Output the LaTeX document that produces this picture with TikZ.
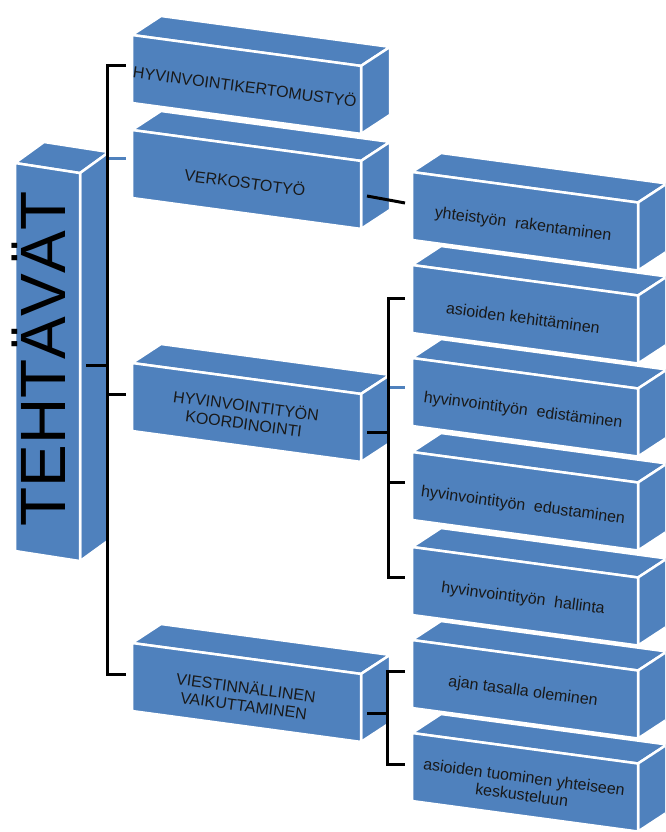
\documentclass[tikz,border=0pt]{standalone}
\usepackage{fontspec}
\setmainfont{Liberation Sans}
\definecolor{boxblue}{RGB}{79,129,189}
\tikzset{
  face/.style={fill=boxblue, draw=white, line width=2.5pt, line join=round},
  conn/.style={draw=black, line width=3pt},
  bluetick/.style={draw=boxblue, line width=3pt},
  lbl/.style={font=\fontsize{16}{18}\selectfont, align=center, inner sep=0pt, rotate=-7.5, text=black!90},
  rootlbl/.style={font=\fontsize{64}{64}\selectfont, inner sep=0pt, rotate=90, anchor=base, text=black},
}
% #1 x, #2 y (front top-left), #3 w, #4 h, #5 slope, #6 dx, #7 dy
\newcommand{\persbox}[7]{%
  \path[face] (#1,#2) -- ({#1+#6},{#2+#7}) -- ({#1+#3+#6},{#2+#3*#5+#7}) -- ({#1+#3},{#2+#3*#5}) -- cycle;
  \path[face] ({#1+#3},{#2+#3*#5}) -- ({#1+#3+#6},{#2+#3*#5+#7}) -- ({#1+#3+#6},{#2+#3*#5+#4+#7}) -- ({#1+#3},{#2+#3*#5+#4}) -- cycle;
  \path[face] (#1,#2) -- ({#1+#3},{#2+#3*#5}) -- ({#1+#3},{#2+#3*#5+#4}) -- (#1,{#2+#4}) -- cycle;
}
\newcommand{\midbox}[1]{\persbox{132}{#1}{229}{68}{0.135}{29}{-19}}
\newcommand{\leafbox}[1]{\persbox{412}{#1}{226}{68}{0.135}{29}{-19}}
\begin{document}
\begin{tikzpicture}[x=1pt,y=-1pt]
\clip (0,0) rectangle (665,832);
\fill[white] (0,0) rectangle (665,832);
% boxes
\persbox{15}{163}{65}{388}{0.155}{29}{-21}
\midbox{35}
\midbox{130}
\midbox{363}
\midbox{643}
\leafbox{172}
\leafbox{265}
\leafbox{358}
\leafbox{452}
\leafbox{547}
\leafbox{640}
\leafbox{733}
% labels
\node[rootlbl] (root) at (65,359) {TEHTÄVÄT};
\node[lbl] (b1) at (245,86) {HYVINVOINTIKERTOMUSTYÖ};
\node[lbl] (b2) at (245,182) {VERKOSTOTYÖ};
\node[lbl] (b3) at (245,414) {HYVINVOINTITYÖN\\KOORDINOINTI};
\node[lbl] (b4) at (245,696) {VIESTINNÄLLINEN\\VAIKUTTAMINEN};
\node[lbl] (c1) at (523,225) {yhteistyön\ \ rakentaminen};
\node[lbl] (c2) at (523,318) {asioiden kehittäminen};
\node[lbl] (c3) at (523,411) {hyvinvointityön\ \ edistäminen};
\node[lbl] (c4) at (523,506) {hyvinvointityön\ \ edustaminen};
\node[lbl] (c5) at (523,599) {hyvinvointityön\ \ hallinta};
\node[lbl] (c6) at (523,692) {ajan tasalla oleminen};
\node[lbl] (c7) at (523,786) {asioiden tuominen yhteiseen\\keskusteluun};
% connector end points
\coordinate (root-r) at (86,365);
\coordinate (bus1) at (107,0);
\coordinate (b1-l) at (126,66);
\coordinate (b2-l) at (126,158);
\coordinate (b3-l) at (126,394);
\coordinate (b4-l) at (126,674);
\coordinate (b2-r) at (367,196);
\coordinate (c1-l) at (405,203);
\coordinate (b3-r) at (367,432);
\coordinate (bus2) at (388,0);
\coordinate (c2-l) at (405,298);
\coordinate (c3-l) at (405,387);
\coordinate (c4-l) at (405,482);
\coordinate (c5-l) at (405,577);
\coordinate (b4-r) at (367,713);
\coordinate (bus3) at (387,0);
\coordinate (c6-l) at (405,671);
\coordinate (c7-l) at (405,764);
% connectors
\draw[bluetick] (bus1 |- b2-l) -- (b2-l);
\draw[bluetick] (bus2 |- c3-l) -- (c3-l);
\draw[conn] (root-r) -- (root-r -| bus1) |- (b1-l);
\draw[conn] (root-r -| bus1) |- (b3-l);
\draw[conn] (root-r -| bus1) |- (b4-l);
\draw[conn] (b2-r) -- (c1-l);
\draw[conn] (b3-r) -- (b3-r -| bus2) |- (c2-l);
\draw[conn] (b3-r -| bus2) |- (c4-l);
\draw[conn] (b3-r -| bus2) |- (c5-l);
\draw[conn] (b4-r) -- (b4-r -| bus3) |- (c6-l);
\draw[conn] (b4-r -| bus3) |- (c7-l);
\end{tikzpicture}
\end{document}
